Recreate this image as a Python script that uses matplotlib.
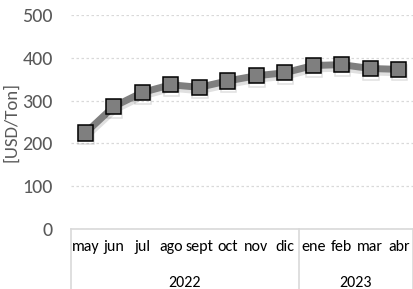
import matplotlib
matplotlib.use("Agg")
import matplotlib.pyplot as plt
import matplotlib.transforms as mtransforms
import matplotlib.patheffects as pe
from matplotlib.lines import Line2D

months = ["may", "jun", "jul", "ago", "sept", "oct", "nov", "dic", "ene", "feb", "mar", "abr"]
years = ["2022", "2023"]
year_counts = [8, 4]
values = [224, 286, 319, 337, 331, 346, 358, 365, 382, 384, 375, 373]
y_ticks = [0, 100, 200, 300, 400, 500]
y_label = "[USD/Ton]"

plt.rcParams['font.family'] = ['Carlito', 'Open Sans', 'DejaVu Sans']
txt = "#595959"

fig = plt.figure(figsize=(4.13, 2.89), dpi=100)
ax = fig.add_axes([71/413, 1-229/289, 342/413, 214/289])
x = list(range(len(months)))
ax.plot(x, values, color="#7f7f7f", lw=5, solid_joinstyle="round", solid_capstyle="round",
        marker="s", markersize=11, markerfacecolor="#7f7f7f", markeredgecolor="#000000",
        markeredgewidth=1.1, zorder=3,
        path_effects=[pe.SimpleLineShadow(offset=(0.5, -2.5), shadow_color="#000000", alpha=0.12), pe.Normal()])
ax.set_xlim(-0.5, len(months) - 0.5)
ax.set_ylim(0, 500)
ax.set_yticks(y_ticks)
ax.tick_params(axis='y', length=0, pad=13, labelsize=14.5, labelcolor=txt)
ax.set_xticks([])
for s in ["top", "right", "left"]:
    ax.spines[s].set_visible(False)
ax.spines["bottom"].set_color("#d9d9d9")
ax.spines["bottom"].set_linewidth(1.2)
ax.yaxis.grid(True, color="#d9d9d9", linestyle=(0, (2, 2)), linewidth=0.9)
ax.set_axisbelow(True)
ax.set_ylabel(y_label, fontsize=13.5, color=txt)
ax.yaxis.set_label_coords(-52/342, 0.5)

tr = mtransforms.blended_transform_factory(ax.transData, fig.transFigure)
for i, m in enumerate(months):
    ax.text(i, 1-247/289, m, transform=tr, ha="center", va="center", fontsize=11.5, color="#000000")
start = 0
bounds = [-0.5]
for yr, c in zip(years, year_counts):
    ax.text(start + (c - 1) / 2, 1-283/289, yr, transform=tr, ha="center", va="center", fontsize=11.5, color="#000000")
    start += c
    bounds.append(start - 0.5)
for b in bounds:
    ax.add_line(Line2D([b, b], [1-229/289, 0], transform=tr, color="#d9d9d9", lw=1.2, clip_on=False))

fig.savefig("out.png", dpi=100)
